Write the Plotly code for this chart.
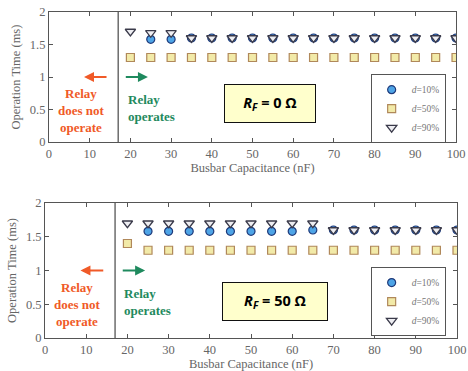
import plotly.graph_objects as go

# ---- data ----
cap_all = [20, 25, 30, 35, 40, 45, 50, 55, 60, 65, 70, 75, 80, 85, 90, 95, 100]
cap_d10 = [25, 30, 35, 40, 45, 50, 55, 60, 65, 70, 75, 80, 85, 90, 95, 100]

# R_F = 0 ohm
top_d10 = [1.58, 1.58, 1.6, 1.6, 1.6, 1.6, 1.6, 1.6, 1.6, 1.6, 1.6, 1.6, 1.6, 1.6, 1.6, 1.6]
top_d50 = [1.3] * 17
top_d90 = [1.7, 1.68, 1.68, 1.6, 1.6, 1.6, 1.6, 1.6, 1.6, 1.6, 1.6, 1.6, 1.6, 1.6, 1.6, 1.6, 1.6]

# R_F = 50 ohm
bot_d10 = [1.58, 1.58, 1.58, 1.58, 1.58, 1.58, 1.58, 1.58, 1.6, 1.6, 1.6, 1.6, 1.6, 1.6, 1.6, 1.6]
bot_d50 = [1.4, 1.3, 1.3, 1.3, 1.3, 1.3, 1.3, 1.3, 1.3, 1.3, 1.3, 1.3, 1.3, 1.3, 1.3, 1.3, 1.3]
bot_d90 = [1.7, 1.7, 1.7, 1.7, 1.7, 1.7, 1.7, 1.7, 1.7, 1.7, 1.6, 1.6, 1.6, 1.6, 1.6, 1.6, 1.6]

x_ticks = [0, 10, 20, 30, 40, 50, 60, 70, 80, 90, 100]
y_ticks = [0, 0.5, 1, 1.5, 2]
y_tick_text = ["0", "0.5", "1", "1.5", "2"]
legend_names = ["<i>d</i>=10%", "<i>d</i>=50%", "<i>d</i>=90%"]
threshold = 17

SERIF = "Liberation Serif, Times New Roman, serif"
AX = "#555555"

fig = go.Figure()

styles = [
    dict(symbol="circle", size=8, color="#4ea4e6", line=dict(color="#1f3a7a", width=1.2)),
    dict(symbol="square", size=8, color="#f2eaa8", line=dict(color="#b0885a", width=1.2)),
    dict(symbol="triangle-down", size=9, color="#eeeef2", line=dict(color="#3a3a4a", width=1.3)),
]

def add_set(xa, ya, d10, d50, d90, legend):
    for name, xs, ys, st in zip(legend_names, [cap_d10, cap_all, cap_all], [d10, d50, d90], styles):
        fig.add_trace(go.Scatter(
            x=xs, y=ys, mode="markers", name=name, marker=st,
            xaxis=xa, yaxis=ya, legend=legend, showlegend=True))

add_set("x", "y", top_d10, top_d50, top_d90, "legend")
add_set("x2", "y2", bot_d10, bot_d50, bot_d90, "legend2")

axis_common = dict(
    showline=True, linecolor=AX, linewidth=1, mirror="ticks",
    ticks="inside", ticklen=4, tickcolor=AX, showgrid=False, zeroline=False,
    tickfont=dict(family=SERIF, size=12.5, color="#666666"), automargin=False,
)

xtitle = dict(text="Busbar Capacitance (nF)", font=dict(family=SERIF, size=12.5, color="#666666"), standoff=2)
ytitle = dict(text="Operation Time (ms)", font=dict(family=SERIF, size=12.5, color="#666666"), standoff=6)

leg_common = dict(xanchor="left", yanchor="top", bgcolor="white",
                  bordercolor="#555555", borderwidth=1,
                  font=dict(family=SERIF, size=9.5, color="#777777"),
                  itemwidth=30, tracegroupgap=0)

fig.update_layout(
    width=468, height=371,
    margin=dict(l=0, r=0, t=0, b=0),
    paper_bgcolor="white", plot_bgcolor="white",
    xaxis=dict(domain=[0.1047, 0.9744], range=[0, 100], tickvals=x_ticks, anchor="y",
               title=xtitle, **axis_common),
    yaxis=dict(domain=[0.617, 0.9677], range=[0, 2], tickvals=y_ticks, ticktext=y_tick_text,
               anchor="x", title=ytitle, **axis_common),
    xaxis2=dict(domain=[0.0962, 0.9765], range=[0, 100], tickvals=x_ticks, anchor="y2",
                title=xtitle, **axis_common),
    yaxis2=dict(domain=[0.0889, 0.4528], range=[0, 2], tickvals=y_ticks, ticktext=y_tick_text,
                anchor="x2", title=ytitle, **axis_common),
    legend=dict(x=0.792, y=0.80, **leg_common),
    legend2=dict(x=0.792, y=0.28, **leg_common),
    showlegend=True,
)

RED = "#f05a28"
GREEN = "#1f8a5e"

for xr, yr, rf_text, bx, by, bw in [("x", "y", "<b><i>R<sub>F</sub></i> = 0 Ω</b>", 0.577, 0.721, 88),
                                    ("x2", "y2", "<b><i>R<sub>F</sub></i> = 50 Ω</b>", 0.588, 0.187, 102)]:
    yd = "y domain" if yr == "y" else "y2 domain"
    fig.add_shape(type="line", xref=xr, yref=yd, x0=threshold, x1=threshold, y0=0, y1=1,
                  line=dict(color="#555555", width=1.3))
    fig.add_annotation(xref=xr, yref=yr, x=8.6, y=1, ax=14.5, ay=1, axref=xr, ayref=yr,
                       showarrow=True, arrowhead=2, arrowsize=1, arrowwidth=2, arrowcolor=RED, text="")
    fig.add_annotation(xref=xr, yref=yr, x=24.3, y=1, ax=18.5, ay=1, axref=xr, ayref=yr,
                       showarrow=True, arrowhead=2, arrowsize=1, arrowwidth=2, arrowcolor=GREEN, text="")
    fig.add_annotation(xref=xr, yref=yr, x=8, y=0.49, showarrow=False, align="center",
                       text="<b>Relay<br>does not<br>operate</b>",
                       font=dict(family=SERIF, size=13, color=RED))
    fig.add_annotation(xref=xr, yref=yr, x=18.8, y=0.53, xanchor="left", showarrow=False, align="left",
                       text="<b>Relay<br>operates</b>",
                       font=dict(family=SERIF, size=13, color=GREEN))
    fig.add_annotation(xref="paper", yref="paper", x=bx, y=by, xanchor="center", yanchor="middle",
                       showarrow=False,
                       text=rf_text, bgcolor="#ffffcc", bordercolor="#111111", borderwidth=1,
                       borderpad=1, width=bw, height=35,
                       font=dict(family="Open Sans, Noto Sans, sans-serif", size=14.5, color="black"))

fig.write_html("out.html", config={"displayModeBar": False},
               post_script="document.body.style.margin='0';document.body.style.overflow='hidden';")
